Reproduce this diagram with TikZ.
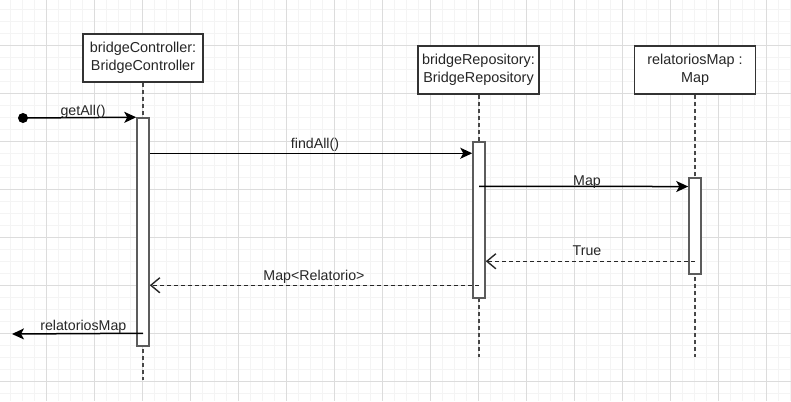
\documentclass[tikz,border=0pt]{standalone}
\usepackage{fontspec}
\setmainfont{Liberation Sans}
\usetikzlibrary{arrows.meta}
\definecolor{gridminor}{HTML}{F4F4F4}
\definecolor{gridmajor}{HTML}{DCDCDC}
\definecolor{strk}{HTML}{333333}
\tikzset{
  objbox/.style={draw=strk, fill=white, line width=1.5pt, minimum width=120pt, minimum height=48pt,
    inner sep=0pt, align=center, font=\fontsize{14.4}{17.5}\selectfont, text=black!85},
  actbar/.style={draw=strk!80, fill=white, line width=1.5pt, minimum width=12pt, inner sep=0pt},
  lifeline/.style={draw=strk!90, line width=1.5pt, dash pattern=on 4pt off 3pt},
  callmsg/.style={draw=black, line width=1.5pt, -{Stealth[length=12pt,width=11pt,inset=3pt]}},
  retmsg/.style={draw=black!85, line width=1.5pt, dash pattern=on 4pt off 3pt, -{Straight Barb[length=9pt,width=15pt,line width=1.4pt]}},
  msglabel/.style={anchor=base, inner sep=0pt, font=\fontsize{14.2}{16}\selectfont, text=black!85},
}
\begin{document}
\begin{tikzpicture}[x=1pt,y=-1pt]
\useasboundingbox (0,0) rectangle (791,401);
\fill[white] (0,0) rectangle (791,401);
% grid
\foreach \i in {0,...,66} {\draw[gridminor, line width=0.7pt] ({10.5+12*\i},0) -- ({10.5+12*\i},401);}
\foreach \i in {0,...,33} {\draw[gridminor, line width=0.7pt] (0,{9+12*\i}) -- (791,{9+12*\i});}
\foreach \i in {0,...,16} {\draw[gridmajor, line width=0.7pt] ({46.5+48*\i},0) -- ({46.5+48*\i},401);}
\foreach \i in {0,...,8} {\draw[gridmajor, line width=0.7pt] (0,{-3+48*\i}) -- (791,{-3+48*\i});}

% objects
\node[objbox] (ctrl) at (143,58) {bridgeController:\\BridgeController};
\node[objbox, minimum width=121pt] (repo) at (478.5,70) {bridgeRepository:\\BridgeRepository};
\node[objbox, minimum width=121pt] (rmap) at (695,70) {relatoriosMap :\\Map};

% lifeline ends
\coordinate (ctrlend) at (143,380);
\coordinate (repoend) at (479,357);
\coordinate (rmapend) at (695,357);
\draw[lifeline] (ctrl.south) -- (ctrlend);
\draw[lifeline] (repo.south -| repoend) -- (repoend);
\draw[lifeline] (rmap.south) -- (rmapend);

% activation bars
\node[actbar, minimum height=228pt] (ctrlbar) at (143,232) {};
\node[actbar, minimum height=156pt] (repobar) at (479,220) {};
\node[actbar, minimum height=96pt] (rmapbar) at (695,226) {};

% start dot and end point
\node[circle, fill=black, inner sep=0pt, minimum size=10pt] (start) at (23,118) {};
\coordinate (outend) at (12,334);

% messages
\draw[callmsg] (start.center) -- (ctrlbar.north west);
\node[msglabel] (l1) at (83,115) {getAll()};

\draw[callmsg] ([yshift=-36pt]ctrlbar.north east) -- ([yshift=-12pt]repobar.north west);
\node[msglabel] (l2) at (315,148) {findAll()};

\draw[callmsg] ([yshift=-45pt]repobar.north) -- ([yshift=-9.3pt]rmapbar.north west);
\node[msglabel] (l3) at (587,185) {Map};

\draw[retmsg] ([yshift=-84pt]rmapbar.north) -- ([yshift=-120pt]repobar.north east);
\node[msglabel] (l4) at (587,255.7) {True};

\draw[retmsg] ([yshift=-144pt]repobar.north) -- ([yshift=-168pt]ctrlbar.north east);
\node[msglabel] (l5) at (314,280) {Map<Relatorio>};

\draw[callmsg] ([yshift=-216pt]ctrlbar.north) -- (outend);
\node[msglabel] (l6) at (83.3,330) {relatoriosMap};
\end{tikzpicture}
\end{document}
